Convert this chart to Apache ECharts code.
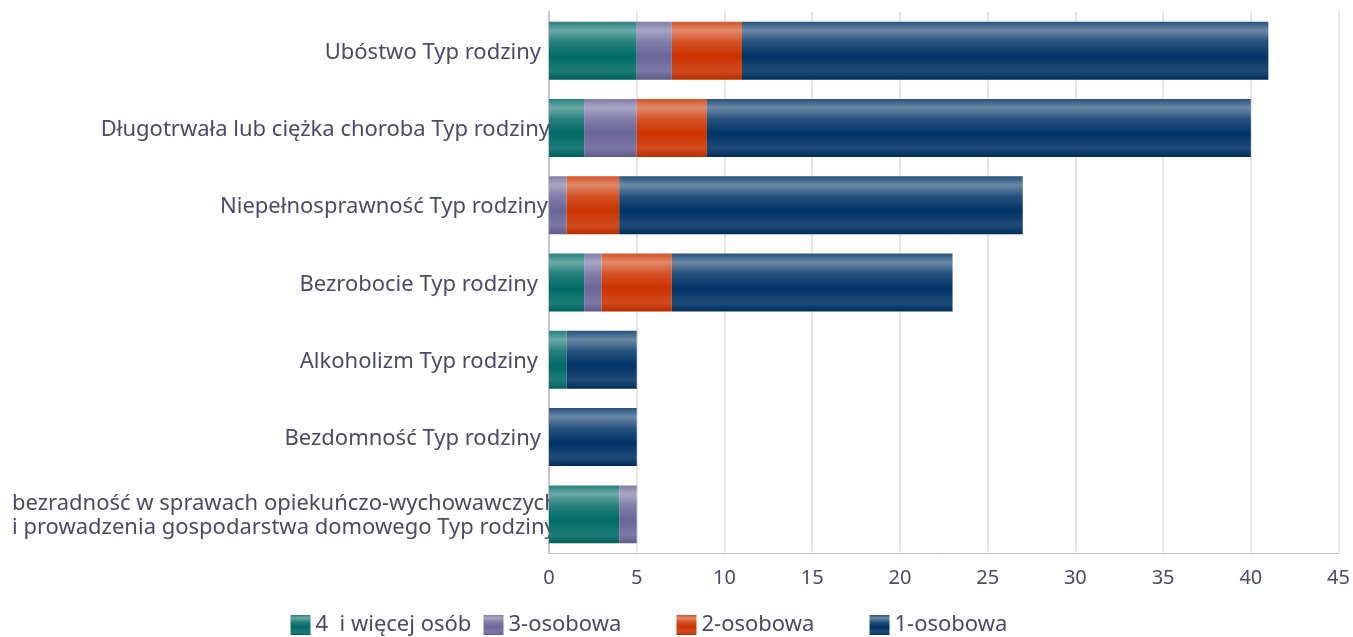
<!DOCTYPE html>
<html><head><meta charset="utf-8">
<script src="https://cdn.jsdelivr.net/npm/echarts@6/dist/echarts.min.js"></script>
<style>html,body{margin:0;padding:0;background:#fff}#c{width:1353px;height:637px}</style>
</head><body><div id="c"></div>
<script>
const categories = [
  'Ubóstwo Typ rodziny',
  'Długotrwała lub ciężka choroba Typ rodziny',
  'Niepełnosprawność Typ rodziny',
  'Bezrobocie Typ rodziny',
  'Alkoholizm Typ rodziny',
  'Bezdomność Typ rodziny',
  'bezradność w sprawach opiekuńczo-wychowawczych\ni prowadzenia gospodarstwa domowego Typ rodziny'
];
const seriesNames = ['4  i więcej osób', '3-osobowa', '2-osobowa', '1-osobowa'];
const v4plus = [5, 2, 0, 2, 1, 0, 4];
const v3 = [2, 3, 1, 1, 0, 0, 1];
const v2 = [4, 4, 3, 4, 0, 0, 0];
const v1 = [30, 31, 23, 16, 4, 5, 0];
const xTicks = {min: 0, max: 45, interval: 5};

// label styling (right padding per label, in render code)
const labelStyleKey = ['p8', 'p0', 'p1', 'p11', 'p11', 'p8', 'blk'];

const palette = [[0,107,102],[107,102,153],[204,51,0],[0,51,102]];
function mix(c, t, a){ return 'rgb(' + c.map((x,i)=>Math.round(x+(t[i]-x)*a)).join(',') + ')'; }
function grad(c){
  const w=[255,255,255], k=[0,0,0];
  return {type:'linear',x:0,y:0,x2:0,y2:1,colorStops:[
    {offset:0,color:mix(c,w,0.15)},
    {offset:0.15,color:mix(c,w,0.42)},
    {offset:0.35,color:mix(c,w,0.15)},
    {offset:0.6,color:mix(c,w,0)},
    {offset:0.85,color:mix(c,w,0.12)},
    {offset:1,color:mix(c,k,0.1)}
  ]};
}
const vals = [v4plus, v3, v2, v1];
const txt = '#4a4a68';
const base = {color:txt,fontSize:22,fontFamily:'Noto Sans',lineHeight:24};
const chart = echarts.init(document.getElementById('c'));
chart.setOption({
  animation:false,
  textStyle:{fontFamily:'Noto Sans'},
  grid:{left:549,right:14,top:12,bottom:84,containLabel:false},
  xAxis:{type:'value',min:xTicks.min,max:xTicks.max,interval:xTicks.interval,
    axisLine:{show:true,lineStyle:{color:'#c4c4d8',width:1}},
    axisTick:{show:false},
    splitLine:{show:true,lineStyle:{color:'#e4e4ea',width:2}},
    axisLabel:{color:txt,fontSize:20,margin:15,fontFamily:'Noto Sans'}},
  yAxis:{type:'category',inverse:true,data:categories,
    axisLine:{show:true,lineStyle:{color:'#c4c4d8',width:2}},
    axisTick:{show:false},
    axisLabel:{margin:0,color:txt,fontSize:22,lineHeight:24,fontFamily:'Noto Sans',
      formatter:function(v, idx){
        const k = labelStyleKey[idx];
        return v.split('\n').map(l => '{' + k + '|' + l + '}').join('\n');
      },
      rich:{
        p0:Object.assign({padding:[4,-1,0,0]},base),
        p1:Object.assign({padding:[4,1,0,0]},base),
        p8:Object.assign({padding:[4,8,0,0]},base),
        p11:Object.assign({padding:[4,11,0,0]},base),
        blk:Object.assign({width:537,align:'left',padding:[2,0,0,0]},base)
      }}},
  legend:{top:609,left:'center',itemWidth:20,itemHeight:20,itemGap:0,icon:'rect',
    formatter:function(n){return '{a|' + n + '}';},
    textStyle:{color:txt,fontSize:22,fontFamily:'Noto Sans',
      rich:{a:{width:168,color:txt,fontSize:22,fontFamily:'Noto Sans',lineHeight:22}}},
    data:seriesNames},
  series: seriesNames.map((n,i)=>({
    name:n,type:'bar',stack:'t',barWidth:'75%',data:vals[i],z:10,
    itemStyle:{color:grad(palette[i])}
  }))
});
</script></body></html>
